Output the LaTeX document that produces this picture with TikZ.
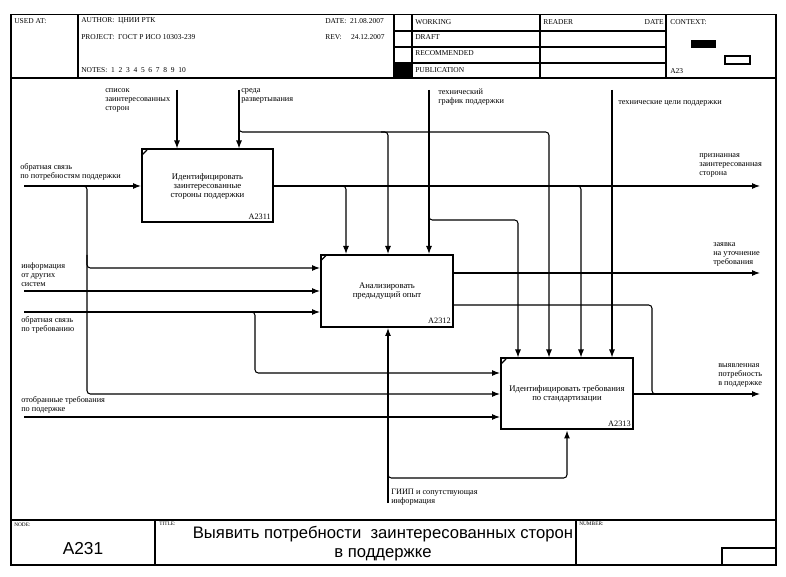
\documentclass[tikz,border=0pt]{standalone}
\usepackage{fontspec}
\setmainfont{Liberation Serif}
\newfontfamily\sansf{Liberation Sans}
\usetikzlibrary{arrows.meta,calc}
\begin{document}
\begin{tikzpicture}[x=0.75pt,y=-0.75pt,
  arr/.style={line width=0.8pt,-{Latex[length=6pt,width=4.5pt]}},
  ln/.style={line width=0.8pt},
  rc/.style={rounded corners=2.5pt},
  fbox/.style={draw,line width=1.5pt,align=center,font=\fontsize{6.5}{6.8}\selectfont,inner sep=0pt},
  lbl/.style={align=left,anchor=north west,inner sep=0pt,font=\fontsize{6.2}{6.75}\selectfont},
  hdr/.style={anchor=west,inner sep=0pt,font=\fontsize{5.6}{6}\selectfont},
  tiny/.style={anchor=north west,inner sep=0pt,font=\fontsize{4}{4.5}\selectfont},
  num/.style={anchor=south east,inner sep=0pt,font=\fontsize{6.2}{6.2}\selectfont},
  tick/.style={line width=0.8pt}
]
\useasboundingbox (0,0) rectangle (786,577);
% frame
\draw[line width=1.2pt] (11,14.5) rectangle (776,565);
\draw[line width=1pt] (11,78) -- (776,78);
\draw[line width=1pt] (78,14.5) -- (78,78);
\draw[line width=0.8pt] (394,14.5) -- (394,78);
\draw[line width=0.8pt] (412,14.5) -- (412,78);
\draw[line width=0.8pt] (540,14.5) -- (540,78);
\draw[line width=1pt] (666,14.5) -- (666,78);
\draw[line width=0.8pt] (394,31) -- (666,31);
\draw[line width=0.8pt] (394,47) -- (666,47);
\draw[line width=0.8pt] (394,63) -- (666,63);
\fill (394,63) rectangle (412,78);
\fill (691,40.5) rectangle (716,48.5);
\draw[line width=0.8pt] (725,56) rectangle (750,64);
% header texts
\node[hdr] (h1) at (14,21) {USED AT:};
\node[hdr] (h2) at (81,21) {AUTHOR:\ \ ЦНИИ РТК};
\node[hdr] (h3) at (81,37) {PROJECT:\ \ ГОСТ Р ИСО 10303-239};
\node[hdr] (h4) at (81,70) {NOTES:\ \ 1\ \ 2\ \ 3\ \ 4\ \ 5\ \ 6\ \ 7\ \ 8\ \ 9\ \ 10};
\node[hdr] (h5) at (325,21) {DATE:\ \ 21.08.2007};
\node[hdr] (h6) at (325,37) {REV:\ \ \ \ \ 24.12.2007};
\node[hdr] (h7) at (415,22) {WORKING};
\node[hdr] (h8) at (415,37) {DRAFT};
\node[hdr] (h9) at (415,53) {RECOMMENDED};
\node[hdr] (h10) at (415,70) {PUBLICATION};
\node[hdr] (h11) at (543,22) {READER};
\node[hdr,anchor=east] (h12) at (664,22) {DATE};
\node[hdr] (h13) at (670,22) {CONTEXT:};
\node[hdr] (h14) at (670,71) {A23};
% bottom section
\draw[line width=1pt] (11,520) -- (776,520);
\draw[line width=1pt] (155,520) -- (155,565);
\draw[line width=1pt] (576,520) -- (576,565);
\draw[line width=0.8pt] (722,548) rectangle (776,565);
\node[tiny] (n1) at (14,523) {NODE:};
\node[tiny] (n2) at (159,522) {TITLE:};
\node[tiny] (n3) at (579,522) {NUMBER:};
\node[inner sep=0pt,font=\sansf\fontsize{13}{14}\selectfont] (n4) at (83,549) {A231};
\node[inner sep=0pt,align=center,font=\sansf\fontsize{12.5}{14.25}\selectfont] (n5) at (383,543.5) {Выявить потребности\ \ заинтересованных сторон\\в поддержке};
% boxes
\node[fbox,minimum width=98.25pt,minimum height=54.75pt] (b1) at (207.5,186) {Идентифицировать\\заинтересованные\\стороны поддержки};
\node[fbox,minimum width=99pt,minimum height=54pt] (b2) at (387,291) {Анализировать\\предыдущий опыт};
\node[fbox,minimum width=99pt,minimum height=53.25pt] (b3) at (567,394) {Идентифицировать требования\\по стандартизации};
\node[num] (nb1) at ($(b1.south east)+(-3,-4)$) {A2311};
\node[num] (nb2) at ($(b2.south east)+(-3,-4)$) {A2312};
\node[num] (nb3) at ($(b3.south east)+(-3,-4)$) {A2313};
\draw[tick] ($(b1.north west)+(1.5,6)$) -- ($(b1.north west)+(6,1.5)$);
\draw[tick] ($(b2.north west)+(1.5,6)$) -- ($(b2.north west)+(6,1.5)$);
\draw[tick] ($(b3.north west)+(1.5,6)$) -- ($(b3.north west)+(6,1.5)$);
% inputs
\coordinate (i1) at (24,186);
\coordinate (i2) at (24,291);
\coordinate (i3) at (24,312);
\coordinate (i4) at (24,417);
\draw[arr] (i1) -- (b1.west);
\draw[arr,rc] (80,186) -| (87,394) -- (b3.west);
\draw[arr,rc] (87,255) |- ($(b2.west)+(0,-23)$);
\draw[arr] (i2) -- (b2.west);
\draw[arr] (i3) -- ($(b2.west)+(0,21)$);
\draw[arr,rc] (248,312) -| (255,373) -- ($(b3.west)+(0,-21)$);
\draw[arr] (i4) -- ($(b3.west)+(0,23)$);
% controls
\coordinate (c1) at (177,90);
\coordinate (c2) at (239,90);
\coordinate (c3) at (429,90);
\coordinate (c4) at (612,90);
\draw[arr] (c1) -- (c1 |- b1.north);
\draw[arr] (c2) -- (c2 |- b1.north);
\coordinate (k1) at (549,132);
\draw[arr,rc] (239,124) |- (k1) -- (k1 |- b3.north);
\coordinate (k2) at (388,132);
\draw[arr,rc] (381,132) -| (k2 |- b2.north);
\draw[arr] (c3) -- (c3 |- b2.north);
\coordinate (k5) at (518,220);
\draw[arr,rc] (429,212) |- (k5) -- (k5 |- b3.north);
\draw[arr] (c4) -- (c4 |- b3.north);
% outputs
\coordinate (o1) at (760,186);
\coordinate (o2) at (760,273);
\coordinate (o3) at (760,394);
\draw[arr] (b1.east) -- (o1);
\coordinate (k3) at (346,186);
\draw[arr,rc] (339,186) -| (k3 |- b2.north);
\coordinate (k4) at (581,186);
\draw[arr,rc] (574,186) -| (k4 |- b3.north);
\draw[arr] (b2.east |- o2) -- (o2);
\coordinate (k6) at (652,394);
\draw[ln,rc] ($(b2.east)+(0,14)$) -| (k6) -- ($(k6)+(8,0)$);
\draw[arr] (b3.east) -- (o3);
% mechanism
\coordinate (m1) at (388,503);
\draw[arr] (m1) -- (m1 |- b2.south);
\coordinate (k7) at (567,478);
\draw[arr,rc] (388,470) |- (k7) -- (b3.south);
% labels
\node[lbl] (l1) at (105,88.5) {список\\заинтересованных\\сторон};
\node[lbl] (l2) at (241,88.5) {среда\\развертывания};
\node[lbl] (l3) at (438,88.5) {технический\\график поддержки};
\node[lbl] (l4) at (618,100.5) {технические цели поддержки};
\node[lbl] (l5) at (20,163.5) {обратная связь\\по потребностям поддержки};
\node[lbl] (l6) at (699,153.5) {признанная\\заинтересованная\\сторона};
\node[lbl] (l7) at (21,262.5) {информация\\от других\\систем};
\node[lbl] (l8) at (21,316.5) {обратная связь\\по требованию};
\node[lbl] (l9) at (21,396.5) {отобранные требования\\по подержке};
\node[lbl] (l10) at (713,242.5) {заявка\\на уточнение\\требования};
\node[lbl] (l11) at (718,363.5) {выявленная\\потребность\\в поддержке};
\node[lbl] (l12) at (391,488.5) {ГИИП и сопутствующая\\информация};
\end{tikzpicture}
\end{document}
